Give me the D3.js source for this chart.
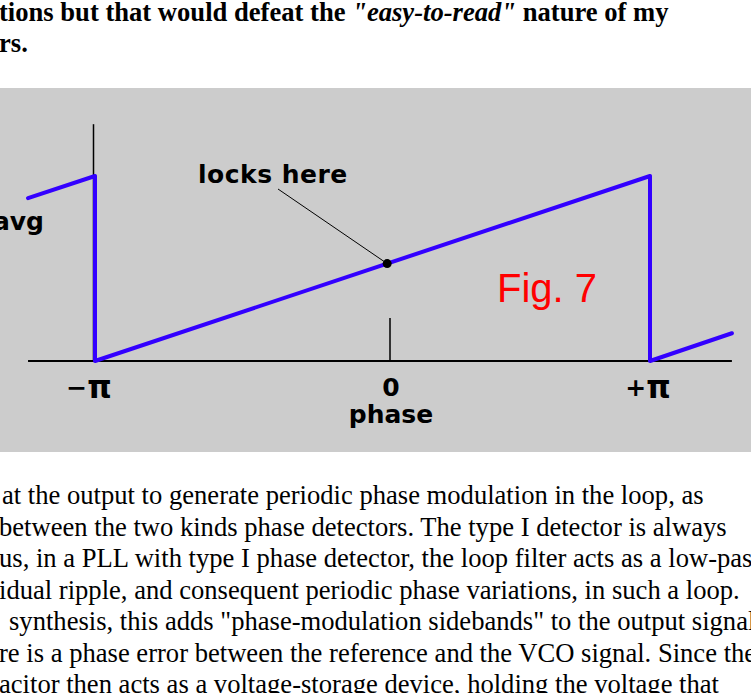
<!DOCTYPE html>
<html>
<head>
<meta charset="utf-8">
<script src="https://cdn.jsdelivr.net/npm/d3@7"></script>
<style>
  html, body { margin: 0; padding: 0; background: #fff; overflow: hidden; }
  svg { display: block; }
</style>
</head>
<body>
<svg id="page" width="751" height="693"></svg>
<script>
const PI = Math.PI;

// Phase-detector output (normalised average voltage) versus phase error
const phasePoints   = [-1.227 * PI, -PI, -PI, PI, PI, 1.315 * PI];
const voltagePoints = [0.88, 1.0, 0.0, 1.0, 0.0, 0.15];

// Axis ticks: sign part and symbol part of each label
const tickPhases = [-PI, 0, PI];
const tickSigns  = ["\u2212", "", "+"];
const tickNames  = ["\u03C0", "0", "\u03C0"];

// Lock point
const lockPhase = -0.03;

// Surrounding page text
const introLines = [
  { parts: [["tions but that would defeat the ", "normal"], ["\"easy-to-read\"", "italic"], [" nature of my", "normal"]], x: -1 },
  { parts: [["rs.", "normal"]], x: -1 }
];
const bodyLines = [
  { text: "at the output to generate periodic phase modulation in the loop, as", x: 2 },
  { text: "between the two kinds phase detectors. The type I detector is always", x: -1 },
  { text: "us, in a PLL with type I phase detector, the loop filter acts as a low-pass", x: -1 },
  { text: "idual ripple, and consequent periodic phase variations, in such a loop.", x: -1 },
  { text: "synthesis, this adds \"phase-modulation sidebands\" to the output signal", x: 9 },
  { text: "re is a phase error between the reference and the VCO signal. Since the", x: -1 },
  { text: "acitor then acts as a voltage-storage device, holding the voltage that", x: -1 }
];

const svg = d3.select("#page");
const serif = "'Liberation Serif', 'Times New Roman', serif";

// ---- text above the figure ----
const intro = svg.append("g")
  .attr("font-family", serif)
  .attr("font-weight", "bold")
  .attr("font-size", 26.6)
  .attr("fill", "#000");
introLines.forEach((ln, i) => {
  const t = intro.append("text").attr("x", ln.x).attr("y", 21 + i * 31);
  ln.parts.forEach(([s, style]) => t.append("tspan").attr("font-style", style).text(s));
});

// ---- figure ----
const fig = svg.append("g");
fig.append("rect").attr("x", 0).attr("y", 88).attr("width", 751).attr("height", 364).attr("fill", "#cccccc");

const x = d3.scaleLinear().domain([-PI, 0, PI]).range([95, 390, 650]);
const y = d3.scaleLinear().domain([0, 1]).range([361, 176]);

const labelFont = "'DejaVu Sans', Verdana, sans-serif";

// horizontal phase axis
fig.append("line")
  .attr("x1", x(phasePoints[0])).attr("x2", x(phasePoints[phasePoints.length - 1]))
  .attr("y1", y(0)).attr("y2", y(0))
  .attr("stroke", "#000").attr("stroke-width", 2);

// vertical voltage axis at -pi
fig.append("line")
  .attr("x1", x(-PI) - 1.5).attr("x2", x(-PI) - 1.5)
  .attr("y1", y(1.28)).attr("y2", y(0))
  .attr("stroke", "#000").attr("stroke-width", 1.5);

// centre tick at zero phase
fig.append("line")
  .attr("x1", x(0)).attr("x2", x(0))
  .attr("y1", y(0) - 43).attr("y2", y(0))
  .attr("stroke", "#000").attr("stroke-width", 1.5);

// sawtooth characteristic
const pts = phasePoints.map((p, i) => [p, voltagePoints[i]]);
const line = d3.line().x(d => x(d[0])).y(d => y(d[1]));
fig.append("path")
  .attr("d", line(pts))
  .attr("fill", "none")
  .attr("stroke", "#3300ff")
  .attr("stroke-width", 4)
  .attr("stroke-linejoin", "round")
  .attr("stroke-linecap", "round");

// tick labels
const tl = fig.selectAll("text.tick")
  .data(tickPhases)
  .join("text")
  .attr("class", "tick")
  .attr("x", (d, i) => x(d) + (i === 0 ? -6 : i === 2 ? -2 : 1))
  .attr("y", 396)
  .attr("text-anchor", "middle")
  .attr("font-family", labelFont)
  .attr("font-weight", "bold")
  .attr("font-size", 25);
tl.append("tspan").text((d, i) => tickSigns[i]);
tl.append("tspan")
  .attr("font-size", (d, i) => tickNames[i] === "\u03C0" ? 31 : 25)
  .attr("dy", (d, i) => tickNames[i] === "\u03C0" ? 2 : 0)
  .text((d, i) => tickNames[i]);

fig.append("text")
  .attr("x", x(0) + 1).attr("y", 423)
  .attr("text-anchor", "middle")
  .attr("font-family", labelFont).attr("font-weight", "bold").attr("font-size", 25)
  .text("phase");

fig.append("text")
  .attr("x", 44).attr("y", 230)
  .attr("text-anchor", "end")
  .attr("font-family", labelFont).attr("font-weight", "bold").attr("font-size", 25)
  .text("avg");

// lock point on the ramp (straight segment between -pi and +pi)
const t = (x(lockPhase) - x(-PI)) / (x(PI) - x(-PI));
const lockV = t * 1.0;
const lx = x(lockPhase), ly = y(lockV);

fig.append("line")
  .attr("x1", 278).attr("y1", 189)
  .attr("x2", lx).attr("y2", ly)
  .attr("stroke", "#000").attr("stroke-width", 1);
fig.append("circle").attr("cx", lx).attr("cy", ly).attr("r", 4.5).attr("fill", "#000");

fig.append("text")
  .attr("x", 198).attr("y", 183)
  .attr("font-family", labelFont).attr("font-weight", "bold").attr("font-size", 25)
  .attr("letter-spacing", 0.5)
  .text("locks here");

fig.append("text")
  .attr("x", 497).attr("y", 302)
  .attr("font-family", "'Liberation Sans', Arial, sans-serif")
  .attr("font-size", 40)
  .attr("fill", "#ff0000")
  .text("Fig. 7");

// ---- text below the figure ----
const body = svg.append("g")
  .attr("font-family", serif)
  .attr("font-size", 26.6)
  .attr("fill", "#000");
bodyLines.forEach((ln, i) => {
  body.append("text").attr("x", ln.x).attr("y", 504 + i * 31.5).text(ln.text);
});
</script>
</body>
</html>
